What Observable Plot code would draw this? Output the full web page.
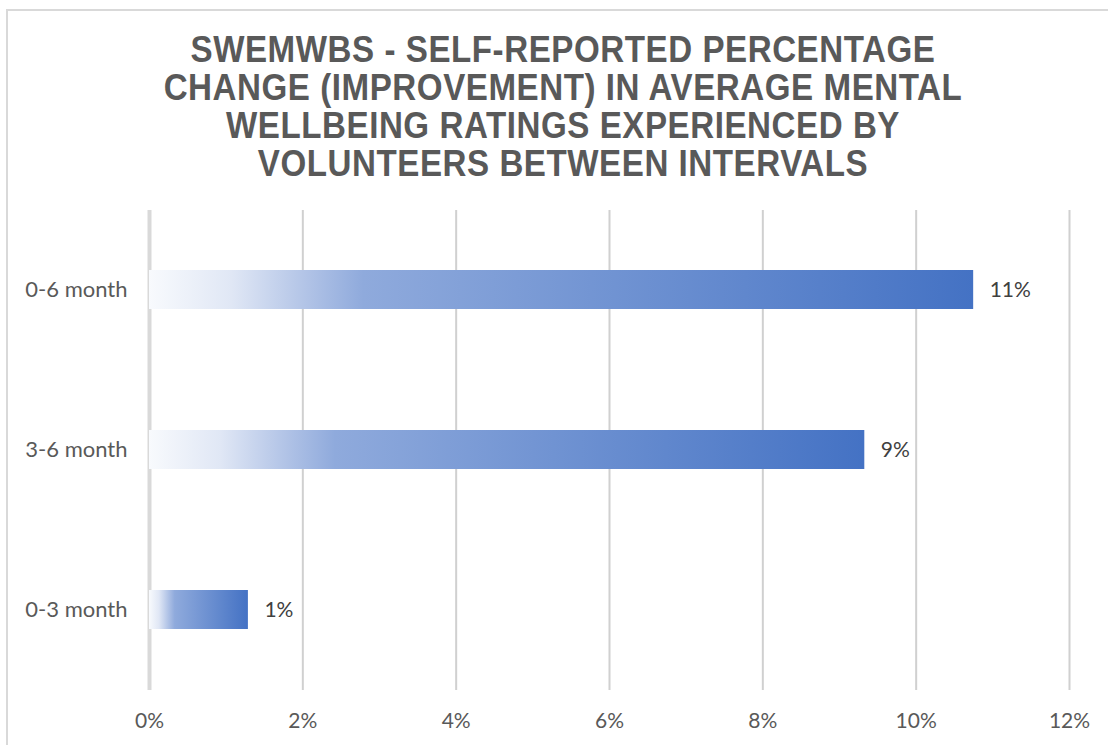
<!DOCTYPE html>
<html>
<head>
<meta charset="utf-8">
<script src="https://cdn.jsdelivr.net/npm/d3@7"></script>
<script src="https://cdn.jsdelivr.net/npm/@observablehq/plot@0.6"></script>
<style>
  html, body { margin: 0; padding: 0; background: #fff; }
  #frame { position: relative; width: 1108px; height: 745px; overflow: hidden; background: #fff; }
  #border { position: absolute; left: 6px; top: 9px; width: 1200px; height: 800px;
            border-left: 2px solid #d9d9d9; border-top: 2px solid #d9d9d9; box-sizing: border-box; }
  #title { position: absolute; top: 31px; left: 0; width: 1126px; text-align: center;
           font-family: "Liberation Sans", Arial, sans-serif;
           font-weight: bold; font-size: 36px; line-height: 38px; color: #595959; letter-spacing: 0.6px;
           transform: scaleX(0.92); transform-origin: 563px 0; }
  #chart { position: absolute; top: 190px; left: 0; }
</style>
</head>
<body>
<div id="frame">
  <div id="border"></div>
  <div id="title">SWEMWBS - SELF-REPORTED PERCENTAGE<br>CHANGE (IMPROVEMENT) IN AVERAGE MENTAL<br>WELLBEING RATINGS EXPERIENCED BY<br>VOLUNTEERS BETWEEN INTERVALS</div>
  <div id="chart"></div>
</div>
<script>
const categories = ["0-6 month", "3-6 month", "0-3 month"];
const values = [10.75, 9.33, 1.29];
const valueLabels = ["11%", "9%", "1%"];
const xTicks = [0, 2, 4, 6, 8, 10, 12];

const data = categories.map((c, i) => ({category: c, value: values[i], label: valueLabels[i]}));

const chart = Plot.plot({
  width: 1108,
  height: 555,
  marginLeft: 149,
  marginRight: 39,
  marginTop: 20,
  marginBottom: 55,
  x: {domain: [0, 12], label: null},
  y: {domain: categories, paddingInner: 0.756, paddingOuter: 0.378, label: null},
  style: {fontFamily: "Lato, 'Open Sans', sans-serif", fontSize: "21px", color: "#595959", background: "transparent"},
  marks: [
    Plot.gridX(xTicks.filter(d => d > 0), {stroke: "#d0d0d0", strokeOpacity: 1, strokeWidth: 2}),
    Plot.ruleX([0], {stroke: "#d9d9d9", strokeWidth: 4}),
    Plot.barX(data, {x: "value", y: "category", fill: "url(#barGrad)"}),
    Plot.text(data, {x: "value", y: "category", text: "label", dx: 16, textAnchor: "start", fill: "#404040", fontSize: 21}),
    Plot.axisX({ticks: xTicks, tickSize: 0, tickPadding: 23, tickFormat: d => d + "%", fontSize: 21, label: null}),
    Plot.axisY({tickSize: 0, tickPadding: 22, fontSize: 22, label: null})
  ]
});

const svg = d3.select(chart);
const grad = svg.insert("defs", ":first-child")
  .append("linearGradient")
  .attr("id", "barGrad")
  .attr("x1", "0").attr("y1", "0").attr("x2", "1").attr("y2", "0");
[[0, "#f8fafd"], [0.1, "#e0e7f5"], [0.2, "#adc0e5"], [0.26, "#8faadc"], [1, "#4472c4"]]
  .forEach(([o, c]) => grad.append("stop").attr("offset", o).attr("stop-color", c));

document.getElementById("chart").appendChild(chart);
</script>
</body>
</html>
